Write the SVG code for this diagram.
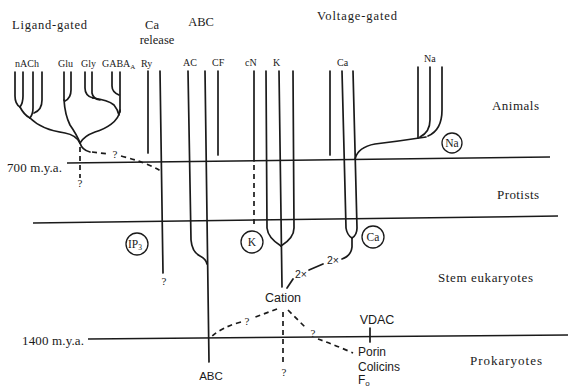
<svg xmlns="http://www.w3.org/2000/svg" width="568" height="392" viewBox="0 0 568 392">
<style>
.ln{fill:none;stroke:#1a1a1a;stroke-width:1.7;stroke-linecap:round}
.era{fill:none;stroke:#1a1a1a;stroke-width:1.5}
.ds{stroke-dasharray:5 4;stroke-linecap:butt}
.t{font-family:"Liberation Serif",serif;fill:#1a1a1a}
.s{font-family:"Liberation Sans",sans-serif;fill:#1a1a1a}
.hd{font-size:12.5px}
.col{font-size:10px}
.reg{font-size:13px}
.q{font-family:"Liberation Serif",serif;font-size:11px;fill:#1a1a1a;text-anchor:middle}
.circ{fill:none;stroke:#1a1a1a;stroke-width:1.3}
.ct{font-family:"Liberation Serif",serif;font-size:11.5px;fill:#1a1a1a;text-anchor:middle}
</style>
<rect width="568" height="392" fill="#ffffff"/>

<g id="headers">
<text class="t hd" x="12" y="29" textLength="75">Ligand-gated</text>
<text class="t hd" x="152" y="29" text-anchor="middle">Ca</text>
<text class="t hd" x="157" y="44" text-anchor="middle">release</text>
<text class="t hd" x="201" y="26" text-anchor="middle">ABC</text>
<text class="t hd" x="317" y="20" textLength="80">Voltage-gated</text>
</g>

<g id="column-labels" class="t col">
<text x="15" y="67">nACh</text>
<text x="58" y="67">Glu</text>
<text x="81" y="67">Gly</text>
<text x="102" y="67">GABA<tspan font-size="7" dy="2">A</tspan></text>
<text x="141" y="67">Ry</text>
<text x="183" y="66">AC</text>
<text x="212" y="66">CF</text>
<text x="245" y="66">cN</text>
<text x="273" y="66">K</text>
<text x="337" y="66">Ca</text>
<text x="424" y="62">Na</text>
</g>

<g id="eras">
<path class="era" d="M67,163 L550,157"/>
<path class="era" d="M33,223 L558,216"/>
<path class="era" d="M88,339 L568,335"/>
<text class="t reg" x="7" y="172" textLength="55">700 m.y.a.</text>
<text class="t reg" x="22" y="345" textLength="62">1400 m.y.a.</text>
<text class="t reg" x="492" y="110" textLength="47">Animals</text>
<text class="t reg" x="497" y="199" textLength="42">Protists</text>
<text class="t reg" x="438" y="282" textLength="95">Stem eukaryotes</text>
<text class="t reg" x="470" y="365" textLength="72">Prokaryotes</text>
</g>

<g id="connectors">
<path class="ln" d="M15,72 V96 Q15,104 20,107"/>
<path class="ln" d="M23,72 V96 Q23,103 20,107"/>
<path class="ln" d="M20,107 Q24,115 30,118"/>
<path class="ln" d="M33,72 V108 Q33,114 30,118"/>
<path class="ln" d="M42,72 V100 Q42,110 34,113"/>
<path class="ln" d="M30,118 C38,126 50,131 65,133 Q76,135 80,143"/>
<path class="ln" d="M64,72 V100"/>
<path class="ln" d="M71,72 V90 Q71,98 65,101"/>
<path class="ln" d="M64,100 Q65,115 70,125 Q77,135 80,143"/>
<path class="ln" d="M85,72 V88 Q85,96 93,98"/>
<path class="ln" d="M92,72 V93 Q93,99 100,100"/>
<path class="ln" d="M93,98 Q108,100 114,105 Q118,110 119,115"/>
<path class="ln" d="M112,72 V86 Q112,92 119,95"/>
<path class="ln" d="M120,72 V112"/>
<path class="ln" d="M120,110 C119,122 105,129 95,132 Q84,136 80,143"/>
<path class="ln ds" d="M80,147 V178"/>
<path class="ln" d="M80,143 Q82,150 90,152"/>
<path class="ln ds" d="M92,152 L109,154"/>
<path class="ln ds" d="M121,156 Q145,162 161,171"/>
<path class="ln" d="M148,71 V153"/>
<path class="ln" d="M160,71 L163,273"/>
<path class="ln" d="M188,71 L191,240 Q192,252 200,256 Q206,259 207,264"/>
<path class="ln" d="M205,71 L209,362"/>
<path class="ln" d="M218,71 V155"/>
<path class="ln" d="M254,71 V161"/>
<path class="ln ds" d="M254,165 V228"/>
<path class="ln" d="M266,71 L267,228 Q268,238 281,246"/>
<path class="ln" d="M279,71 L282,287"/>
<path class="ln" d="M293,71 L294,228 Q294,238 281,246"/>
<path class="ln" d="M330,71 V155"/>
<path class="ln" d="M342,71 L346,228 Q347,235 352,238"/>
<path class="ln" d="M353,71 L357,228 Q357,235 352,238"/>
<path class="ln" d="M352,238 L352,247 Q351,256 342,259"/>
<path class="ln" d="M323,264 L309,270"/>
<path class="ln" d="M293,279 L287,288"/>
<path class="ln" d="M418,67 V138"/>
<path class="ln" d="M430,67 V120 Q430,132 420,137"/>
<path class="ln" d="M442,67 V110 Q442,130 428,136"/>
<path class="ln" d="M355,159 Q358,147 375,144 Q400,141 426,137"/>
<path class="ln ds" d="M277,309 L253,318"/>
<path class="ln ds" d="M241,322 Q222,327 211,337"/>
<path class="ln ds" d="M283,312 V362"/>
<path class="ln ds" d="M288,310 L307,329"/>
<path class="ln ds" d="M318,339 Q335,345 353,353"/>
<path class="ln" d="M370,328 V342"/>
</g>

<g id="question-marks">
<text class="q" x="80" y="187">?</text>
<text class="q" x="115" y="158">?</text>
<text class="q" x="164" y="285">?</text>
<text class="q" x="247" y="325">?</text>
<text class="q" x="284" y="376">?</text>
<text class="q" x="313" y="337">?</text>
</g>

<g id="node-IP3">
<circle class="circ" cx="137" cy="244" r="11"/>
<text class="ct" x="135" y="248">IP<tspan font-size="7.5" dy="2">3</tspan></text>
</g>
<g id="node-K">
<circle class="circ" cx="252" cy="242" r="11"/>
<text class="ct" x="252" y="246">K</text>
</g>
<g id="node-Ca">
<circle class="circ" cx="373" cy="237" r="11"/>
<text class="ct" x="373" y="241">Ca</text>
</g>
<g id="node-Na">
<circle class="circ" cx="452" cy="143" r="10"/>
<text class="ct" x="452" y="147">Na</text>
</g>
<g id="node-2x-a"><text class="s" font-size="10.5" x="333" y="264" text-anchor="middle">2×</text></g>
<g id="node-2x-b"><text class="s" font-size="10.5" x="301" y="278" text-anchor="middle">2×</text></g>
<g id="node-Cation"><text class="s" font-size="12.5" x="283" y="302" text-anchor="middle">Cation</text></g>
<g id="node-ABC"><text class="s" font-size="11.5" x="211" y="380" text-anchor="middle">ABC</text></g>
<g id="node-VDAC"><text class="s" font-size="12.5" x="377" y="324" text-anchor="middle">VDAC</text></g>
<g id="node-Porin">
<text class="s" font-size="12" x="358" y="356">Porin</text>
<text class="s" font-size="12" x="358" y="371">Colicins</text>
<text class="s" font-size="12" x="358" y="384">F<tspan font-size="8" dy="2">o</tspan></text>
</g>
</svg>
